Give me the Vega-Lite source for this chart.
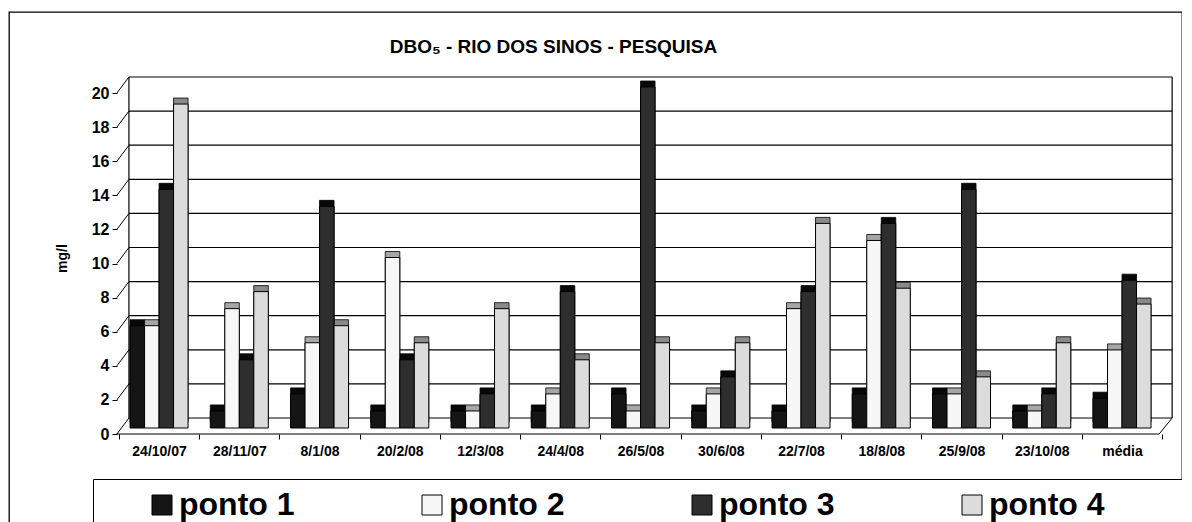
{
  "$schema": "https://vega.github.io/schema/vega-lite/v6.json",
  "width": 1173,
  "height": 530,
  "autosize": {"type": "none"},
  "padding": {"left": 9, "top": 12, "right": 0, "bottom": 0},
  "background": "white",
  "config": {
    "font": "Liberation Sans",
    "view": {"stroke": "#000", "strokeWidth": 1.3}
  },
  "title": {
    "text": "DBO₅ - RIO DOS SINOS - PESQUISA",
    "fontSize": 19,
    "fontWeight": "bold",
    "color": "#000",
    "anchor": "middle",
    "frame": "group",
    "baseline": "middle",
    "offset": -54,
    "dx": -42
  },
  "datasets": {
    "dbo": [
      {"data": "24/10/07", "ponto": "ponto 1", "valor": 6},
      {"data": "24/10/07", "ponto": "ponto 2", "valor": 6},
      {"data": "24/10/07", "ponto": "ponto 3", "valor": 14},
      {"data": "24/10/07", "ponto": "ponto 4", "valor": 19},
      {"data": "28/11/07", "ponto": "ponto 1", "valor": 1},
      {"data": "28/11/07", "ponto": "ponto 2", "valor": 7},
      {"data": "28/11/07", "ponto": "ponto 3", "valor": 4},
      {"data": "28/11/07", "ponto": "ponto 4", "valor": 8},
      {"data": "8/1/08", "ponto": "ponto 1", "valor": 2},
      {"data": "8/1/08", "ponto": "ponto 2", "valor": 5},
      {"data": "8/1/08", "ponto": "ponto 3", "valor": 13},
      {"data": "8/1/08", "ponto": "ponto 4", "valor": 6},
      {"data": "20/2/08", "ponto": "ponto 1", "valor": 1},
      {"data": "20/2/08", "ponto": "ponto 2", "valor": 10},
      {"data": "20/2/08", "ponto": "ponto 3", "valor": 4},
      {"data": "20/2/08", "ponto": "ponto 4", "valor": 5},
      {"data": "12/3/08", "ponto": "ponto 1", "valor": 1},
      {"data": "12/3/08", "ponto": "ponto 2", "valor": 1},
      {"data": "12/3/08", "ponto": "ponto 3", "valor": 2},
      {"data": "12/3/08", "ponto": "ponto 4", "valor": 7},
      {"data": "24/4/08", "ponto": "ponto 1", "valor": 1},
      {"data": "24/4/08", "ponto": "ponto 2", "valor": 2},
      {"data": "24/4/08", "ponto": "ponto 3", "valor": 8},
      {"data": "24/4/08", "ponto": "ponto 4", "valor": 4},
      {"data": "26/5/08", "ponto": "ponto 1", "valor": 2},
      {"data": "26/5/08", "ponto": "ponto 2", "valor": 1},
      {"data": "26/5/08", "ponto": "ponto 3", "valor": 20},
      {"data": "26/5/08", "ponto": "ponto 4", "valor": 5},
      {"data": "30/6/08", "ponto": "ponto 1", "valor": 1},
      {"data": "30/6/08", "ponto": "ponto 2", "valor": 2},
      {"data": "30/6/08", "ponto": "ponto 3", "valor": 3},
      {"data": "30/6/08", "ponto": "ponto 4", "valor": 5},
      {"data": "22/7/08", "ponto": "ponto 1", "valor": 1},
      {"data": "22/7/08", "ponto": "ponto 2", "valor": 7},
      {"data": "22/7/08", "ponto": "ponto 3", "valor": 8},
      {"data": "22/7/08", "ponto": "ponto 4", "valor": 12},
      {"data": "18/8/08", "ponto": "ponto 1", "valor": 2},
      {"data": "18/8/08", "ponto": "ponto 2", "valor": 11},
      {"data": "18/8/08", "ponto": "ponto 3", "valor": 12},
      {"data": "18/8/08", "ponto": "ponto 4", "valor": 8.2},
      {"data": "25/9/08", "ponto": "ponto 1", "valor": 2},
      {"data": "25/9/08", "ponto": "ponto 2", "valor": 2},
      {"data": "25/9/08", "ponto": "ponto 3", "valor": 14},
      {"data": "25/9/08", "ponto": "ponto 4", "valor": 3},
      {"data": "23/10/08", "ponto": "ponto 1", "valor": 1},
      {"data": "23/10/08", "ponto": "ponto 2", "valor": 1},
      {"data": "23/10/08", "ponto": "ponto 3", "valor": 2},
      {"data": "23/10/08", "ponto": "ponto 4", "valor": 5},
      {"data": "média", "ponto": "ponto 1", "valor": 1.75},
      {"data": "média", "ponto": "ponto 2", "valor": 4.58},
      {"data": "média", "ponto": "ponto 3", "valor": 8.67},
      {"data": "média", "ponto": "ponto 4", "valor": 7.27}
    ],
    "grade": [
      {"v": 0}, {"v": 2}, {"v": 4}, {"v": 6}, {"v": 8}, {"v": 10},
      {"v": 12}, {"v": 14}, {"v": 16}, {"v": 18}, {"v": 20}
    ],
    "um": [{}]
  },
  "data": {"name": "dbo"},
  "layer": [
    {
      "data": {"name": "grade"},
      "mark": {"type": "rule", "color": "#000", "strokeWidth": 1.2, "xOffset": 10, "x2Offset": 10, "yOffset": -10, "y2Offset": -10},
      "encoding": {
        "x": {"datum": "24/10/07", "type": "nominal", "bandPosition": 0},
        "x2": {"datum": "média", "bandPosition": 1},
        "y": {"field": "v", "type": "quantitative"},
        "y2": {"field": "v"}
      }
    },
    {
      "data": {"name": "grade"},
      "mark": {"type": "rule", "color": "#000", "strokeWidth": 1, "xOffset": -2, "x2Offset": 10, "yOffset": 6, "y2Offset": -10},
      "encoding": {
        "x": {"datum": "24/10/07", "type": "nominal", "bandPosition": 0},
        "x2": {"datum": "24/10/07", "bandPosition": 0},
        "y": {"field": "v", "type": "quantitative"},
        "y2": {"field": "v"}
      }
    },
    {
      "data": {"name": "um"},
      "mark": {"type": "rule", "color": "#000", "strokeWidth": 1.2, "xOffset": 10, "yOffset": -10, "y2Offset": -10},
      "encoding": {
        "x": {"datum": "24/10/07", "type": "nominal", "bandPosition": 0},
        "y": {"datum": 0, "type": "quantitative"},
        "y2": {"datum": 20}
      }
    },
    {
      "data": {"name": "um"},
      "mark": {"type": "rule", "color": "#000", "strokeWidth": 1.2, "xOffset": 10, "yOffset": -10, "y2Offset": -10},
      "encoding": {
        "x": {"datum": "média", "type": "nominal", "bandPosition": 1},
        "y": {"datum": 0, "type": "quantitative"},
        "y2": {"datum": 20}
      }
    },
    {
      "data": {"name": "um"},
      "mark": {"type": "rule", "color": "#000", "strokeWidth": 1.2, "xOffset": -2, "x2Offset": -3, "yOffset": 6, "y2Offset": 6},
      "encoding": {
        "x": {"datum": "24/10/07", "type": "nominal", "bandPosition": 0},
        "x2": {"datum": "média", "bandPosition": 1},
        "y": {"datum": 0, "type": "quantitative"},
        "y2": {"datum": 0}
      }
    },
    {
      "data": {"name": "um"},
      "mark": {"type": "rule", "color": "#000", "strokeWidth": 1, "xOffset": -3, "x2Offset": 10, "yOffset": 6, "y2Offset": -10},
      "encoding": {
        "x": {"datum": "média", "type": "nominal", "bandPosition": 1},
        "x2": {"datum": "média", "bandPosition": 1},
        "y": {"datum": 0, "type": "quantitative"},
        "y2": {"datum": 0}
      }
    },
    {
      "mark": {"type": "bar", "xOffset": 5, "yOffset": -6, "y2Offset": -6, "stroke": "#000", "strokeWidth": 0.8},
      "encoding": {
        "x": {"field": "data", "type": "nominal"},
        "xOffset": {"field": "ponto", "type": "nominal"},
        "y": {"field": "valor", "type": "quantitative"},
        "y2": {"datum": 0},
        "fill": {
          "condition": [
            {"test": "datum.ponto === 'ponto 2'", "value": "#a6a6a6"},
            {"test": "datum.ponto === 'ponto 4'", "value": "#8a8a8a"}
          ],
          "value": "#080808"
        }
      }
    },
    {
      "mark": {"type": "bar", "stroke": "#000", "strokeWidth": 1, "fillOpacity": 1},
      "encoding": {
        "x": {"field": "data", "type": "nominal"},
        "xOffset": {"field": "ponto", "type": "nominal"},
        "y": {"field": "valor", "type": "quantitative"},
        "y2": {"datum": 0},
        "fill": {
          "field": "ponto",
          "type": "nominal",
          "scale": {
            "domain": ["ponto 1", "ponto 2", "ponto 3", "ponto 4"],
            "range": ["#151515", "#f7f7f7", "#2e2e2e", "#dcdcdc"]
          },
          "legend": {
            "title": null,
            "orient": "none",
            "legendX": 84,
            "legendY": 467,
            "direction": "horizontal",
            "columns": 4,
            "columnPadding": 78,
            "padding": 10,
            "strokeColor": "#000",
            "fillColor": "white",
            "symbolType": "square",
            "symbolSize": 400,
            "symbolStrokeColor": "#000",
            "symbolStrokeWidth": 1,
            "symbolOpacity": 1,
            "symbolOffset": 43,
            "labelOffset": 1,
            "labelFontSize": 32,
            "labelFontWeight": "bold",
            "labelColor": "#000",
            "labelLimit": 400,
            "labelExpr": "datum.label === 'ponto 4' ? datum.label + '\u2800\u2800\u2800' : datum.label"
          }
        }
      }
    }
  ],
  "encoding": {
    "x": {
      "type": "nominal",
      "title": null,
      "scale": {
        "type": "band",
        "domain": ["24/10/07", "28/11/07", "8/1/08", "20/2/08", "12/3/08", "24/4/08", "26/5/08", "30/6/08", "22/7/08", "18/8/08", "25/9/08", "23/10/08", "média"],
        "paddingInner": 0,
        "paddingOuter": 0.8087,
        "align": 0.847
      },
      "axis": {
        "orient": "bottom",
        "offset": -108,
        "zindex": 2,
        "domain": false,
        "grid": false,
        "tickBand": "extent",
        "tickOffset": -3,
        "tickSize": 5,
        "tickColor": "#000",
        "labelAngle": 0,
        "labelFontSize": 14,
        "labelFontWeight": "bold",
        "labelColor": "#000",
        "labelPadding": 5,
        "labelOverlap": false
      }
    },
    "xOffset": {
      "type": "nominal",
      "scale": {"paddingInner": 0, "paddingOuter": 0.767}
    },
    "y": {
      "type": "quantitative",
      "title": "mg/l",
      "scale": {"domain": [-6.686, 24.399], "zero": false, "nice": false},
      "axis": {
        "offset": -108,
        "zindex": 2,
        "values": [0, 2, 4, 6, 8, 10, 12, 14, 16, 18, 20],
        "domain": false,
        "grid": false,
        "tickOffset": 6,
        "tickSize": 5,
        "tickColor": "#000",
        "labelFontSize": 16,
        "labelFontWeight": "bold",
        "labelColor": "#000",
        "labelPadding": 3,
        "titleFontSize": 14,
        "titleFontWeight": "bold",
        "titleColor": "#000",
        "titleAngle": 270,
        "titleAlign": "center",
        "titleBaseline": "middle",
        "titleX": -55,
        "titleY": 246
      }
    }
  }
}
